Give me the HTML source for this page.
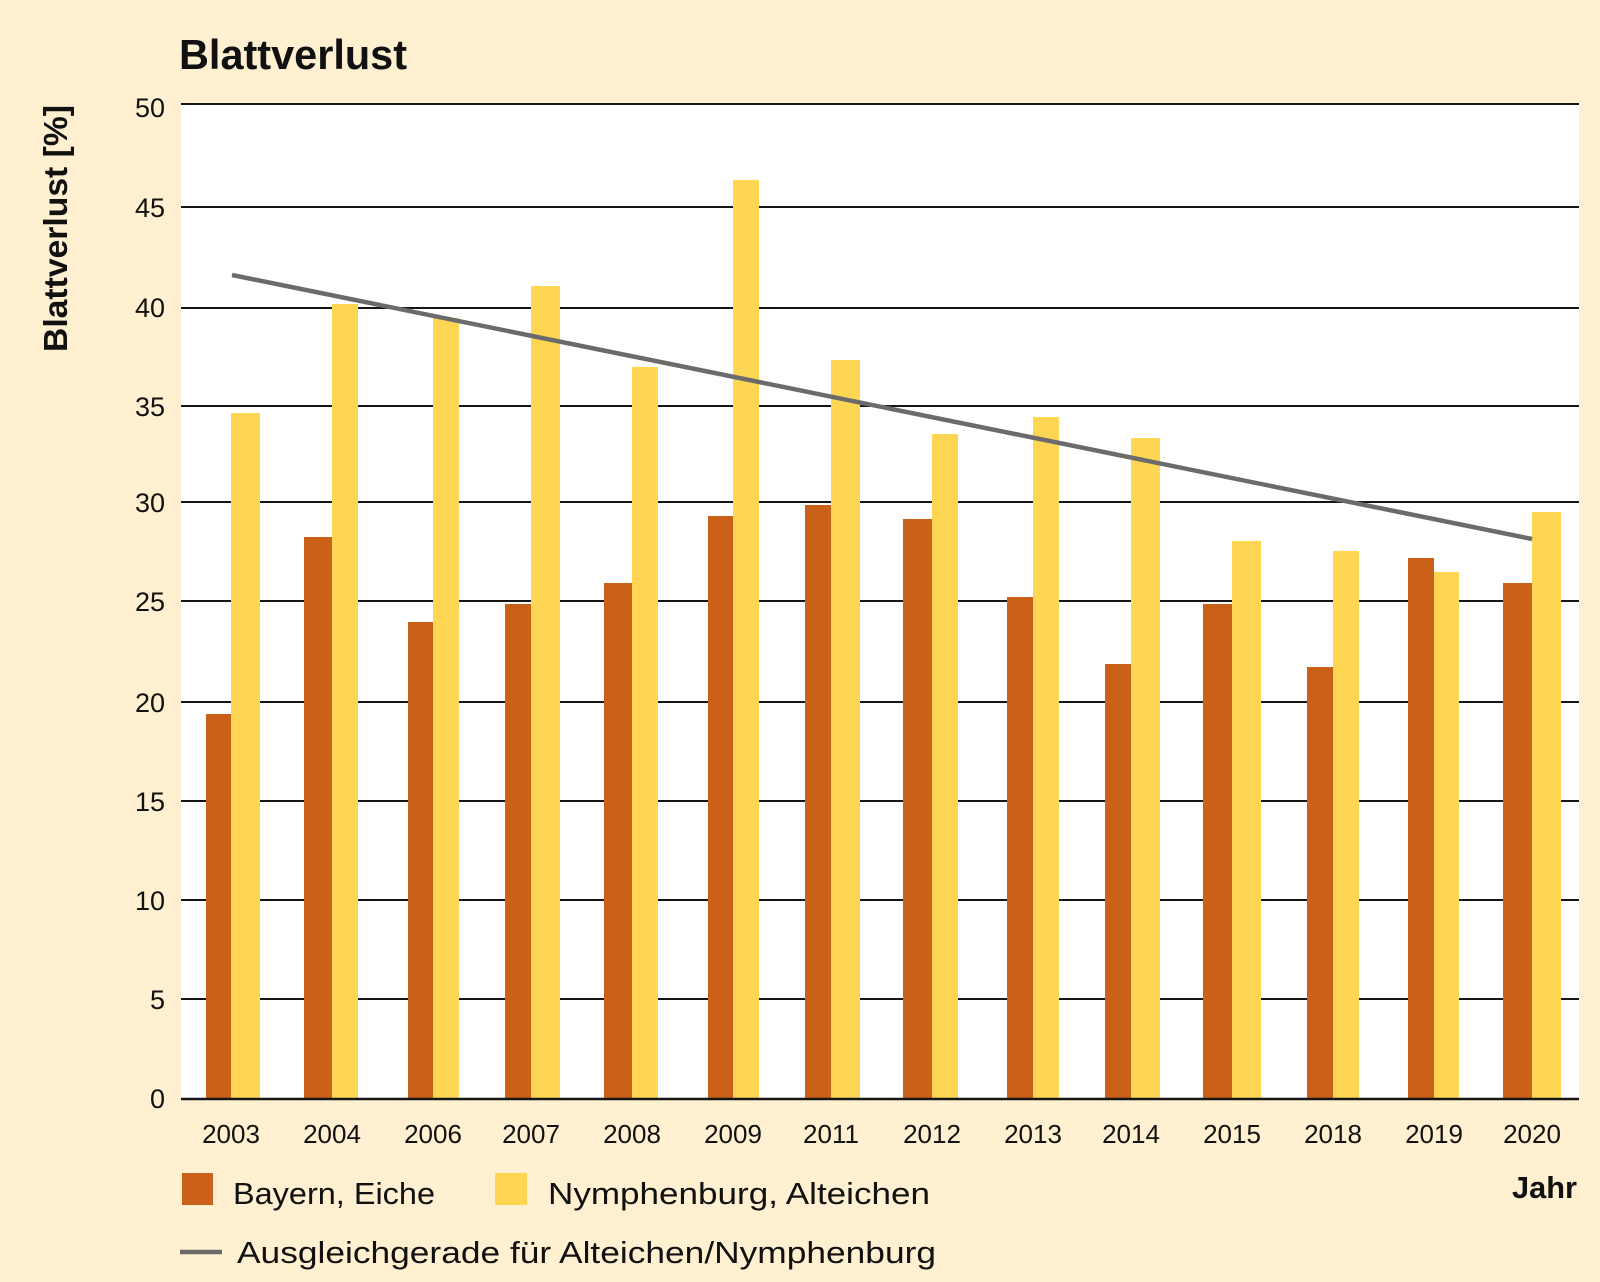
<!DOCTYPE html>
<html>
<head>
<meta charset="utf-8">
<style>
  html,body{margin:0;padding:0;background:#FEF0D0;}
  svg{display:block;}
  text{font-family:"Liberation Sans",Arial,sans-serif;fill:#111;}
</style>
</head>
<body>
<svg width="1600" height="1282" viewBox="0 0 1600 1282" xmlns="http://www.w3.org/2000/svg">
  <rect x="0" y="0" width="1600" height="1282" fill="#FEF0D0"/>
  <!-- plot area -->
  <rect x="181" y="104" width="1398" height="995" fill="#FFFFFF"/>

  <!-- gridlines -->
  <g stroke="#151515" stroke-width="2">
    <line x1="181" y1="104" x2="1579" y2="104"/>
    <line x1="181" y1="207" x2="1579" y2="207"/>
    <line x1="181" y1="308" x2="1579" y2="308"/>
    <line x1="181" y1="406" x2="1579" y2="406"/>
    <line x1="181" y1="502" x2="1579" y2="502"/>
    <line x1="181" y1="601" x2="1579" y2="601"/>
    <line x1="181" y1="702" x2="1579" y2="702"/>
    <line x1="181" y1="801" x2="1579" y2="801"/>
    <line x1="181" y1="900" x2="1579" y2="900"/>
    <line x1="181" y1="999" x2="1579" y2="999"/>
  </g>

  <!-- bars: orange -->
  <g fill="#CB6019">
    <rect x="206" y="714" width="25" height="385"/>
    <rect x="304" y="537" width="28" height="562"/>
    <rect x="408" y="622" width="25" height="477"/>
    <rect x="505" y="604" width="26" height="495"/>
    <rect x="604" y="583" width="28" height="516"/>
    <rect x="708" y="516" width="25" height="583"/>
    <rect x="805" y="505" width="26" height="594"/>
    <rect x="903" y="519" width="29" height="580"/>
    <rect x="1007" y="597" width="26" height="502"/>
    <rect x="1105" y="664" width="26" height="435"/>
    <rect x="1203" y="604" width="29" height="495"/>
    <rect x="1307" y="667" width="26" height="432"/>
    <rect x="1408" y="558" width="26" height="541"/>
    <rect x="1503" y="583" width="29" height="516"/>
  </g>
  <!-- bars: yellow -->
  <g fill="#FED654">
    <rect x="231" y="413" width="29" height="686"/>
    <rect x="332" y="304" width="26" height="795"/>
    <rect x="433" y="318" width="26" height="781"/>
    <rect x="531" y="286" width="29" height="813"/>
    <rect x="632" y="367" width="26" height="732"/>
    <rect x="733" y="180" width="26" height="919"/>
    <rect x="831" y="360" width="29" height="739"/>
    <rect x="932" y="434" width="26" height="665"/>
    <rect x="1033" y="417" width="26" height="682"/>
    <rect x="1131" y="438" width="29" height="661"/>
    <rect x="1232" y="541" width="29" height="558"/>
    <rect x="1333" y="551" width="26" height="548"/>
    <rect x="1434" y="572" width="25" height="527"/>
    <rect x="1532" y="512" width="29" height="587"/>
  </g>

  <!-- axis line -->
  <line x1="181" y1="1099" x2="1579" y2="1099" stroke="#151515" stroke-width="2.5"/>

  <!-- trend line -->
  <line x1="232" y1="275" x2="1532" y2="539" stroke="#6B6B6B" stroke-width="4.5"/>

  <!-- title -->
  <text x="179" y="69" font-size="42" font-weight="bold" textLength="228" lengthAdjust="spacingAndGlyphs">Blattverlust</text>

  <!-- y axis title -->
  <text transform="translate(67,352) rotate(-90)" font-size="33" font-weight="bold" textLength="247" lengthAdjust="spacingAndGlyphs">Blattverlust [%]</text>

  <!-- y tick labels -->
  <g font-size="27" text-anchor="end">
    <text x="165" y="117">50</text>
    <text x="165" y="217">45</text>
    <text x="165" y="317">40</text>
    <text x="165" y="416">35</text>
    <text x="165" y="512">30</text>
    <text x="165" y="611">25</text>
    <text x="165" y="712">20</text>
    <text x="165" y="811">15</text>
    <text x="165" y="910">10</text>
    <text x="165" y="1009">5</text>
    <text x="165" y="1108">0</text>
  </g>

  <!-- x tick labels -->
  <g font-size="26" text-anchor="middle">
    <text x="231" y="1143">2003</text>
    <text x="332" y="1143">2004</text>
    <text x="433" y="1143">2006</text>
    <text x="531" y="1143">2007</text>
    <text x="632" y="1143">2008</text>
    <text x="733" y="1143">2009</text>
    <text x="831" y="1143">2011</text>
    <text x="932" y="1143">2012</text>
    <text x="1033" y="1143">2013</text>
    <text x="1131" y="1143">2014</text>
    <text x="1232" y="1143">2015</text>
    <text x="1333" y="1143">2018</text>
    <text x="1434" y="1143">2019</text>
    <text x="1532" y="1143">2020</text>
  </g>

  <!-- Jahr -->
  <text x="1512" y="1198" font-size="31" font-weight="bold" textLength="65" lengthAdjust="spacingAndGlyphs">Jahr</text>

  <!-- legend -->
  <rect x="182" y="1173" width="31" height="32" fill="#CB6019"/>
  <text x="233" y="1204" font-size="31" textLength="202" lengthAdjust="spacingAndGlyphs">Bayern, Eiche</text>
  <rect x="495" y="1173" width="32" height="32" fill="#FED654"/>
  <text x="548" y="1204" font-size="31" textLength="382" lengthAdjust="spacingAndGlyphs">Nymphenburg, Alteichen</text>
  <line x1="180" y1="1252" x2="222" y2="1252" stroke="#6B6B6B" stroke-width="4.5"/>
  <text x="237" y="1263" font-size="31" textLength="699" lengthAdjust="spacingAndGlyphs">Ausgleichgerade für Alteichen/Nymphenburg</text>
</svg>
</body>
</html>
